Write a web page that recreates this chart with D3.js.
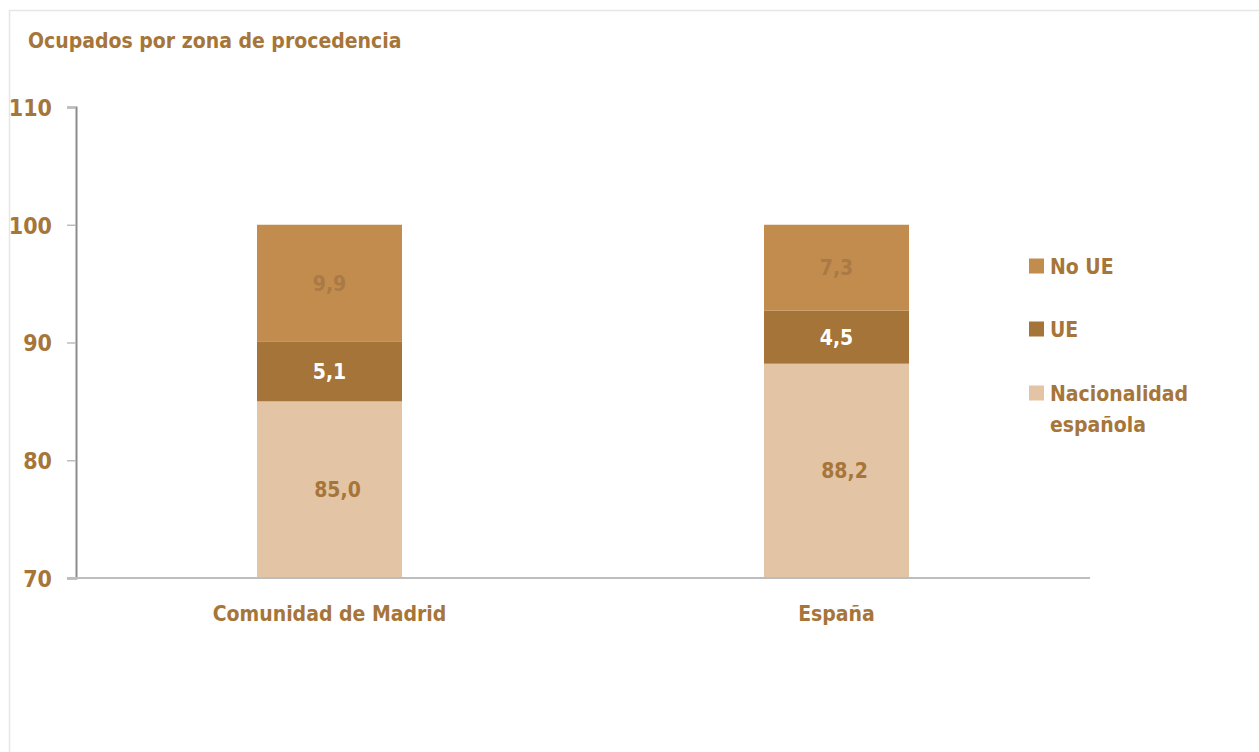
<!DOCTYPE html>
<html lang="es">
<head>
<meta charset="UTF-8">
<title>Ocupados por zona de procedencia</title>
<script src="https://d3js.org/d3.v7.min.js"></script>
<style>
    body { margin: 0; padding: 0; background: #fff; }
    svg text {
        font-family: "DejaVu Sans Condensed", "Liberation Sans Narrow", Arial, sans-serif;
        font-weight: bold;
        fill: #a6753a;
    }
</style>
</head>
<body>
<div id="chart"></div>
<script>
    // datos
    const categories = ["Comunidad de Madrid", "España"];
    const series = ["Nacionalidad española", "UE", "No UE"];
    const nacional = [85.0, 88.2];
    const ue = [5.1, 4.5];
    const noUe = [9.9, 7.3];
    const yTicks = [70, 80, 90, 100, 110];

    const width = 1259, height = 752;
    const colors = { "Nacionalidad española": "#e3c4a4", "UE": "#a57438", "No UE": "#c28c4e" };
    const labelColors = { "Nacionalidad española": "#a6753a", "UE": "#ffffff", "No UE": "#a97a45" };

    const rows = categories.map((c, i) => ({
        cat: c,
        "Nacionalidad española": nacional[i],
        "UE": ue[i],
        "No UE": noUe[i]
    }));
    const stacked = d3.stack().keys(series)(rows);

    const svg = d3.select("#chart").append("svg")
        .attr("width", width)
        .attr("height", height);

    // marco
    svg.append("path")
        .attr("d", `M9.5,${height} V10.5 H${width}`)
        .attr("fill", "none")
        .attr("stroke", "#e6e6e6")
        .attr("stroke-width", 1.5);

    svg.append("text")
        .attr("x", 28).attr("y", 48)
        .attr("font-size", 21)
        .text("Ocupados por zona de procedencia");

    const x = d3.scaleBand().domain(categories).range([76, 1090]);
    const barW = x.bandwidth() * 0.286;
    const y = d3.scaleLinear().domain([70, 110]).range([578, 107]);

    // eje y
    const yAxis = svg.append("g")
        .attr("transform", "translate(76,0)")
        .call(d3.axisLeft(y).tickValues(yTicks).tickSize(9).tickPadding(15));
    yAxis.select(".domain").attr("stroke", "#8c8c8c").attr("stroke-width", 2);
    yAxis.selectAll(".tick line").attr("stroke", "#bdbdbd").attr("stroke-width", 1.5);
    yAxis.selectAll(".tick text")
        .attr("font-size", 23)
        .attr("font-family", null)
        .attr("fill", null)
        .attr("dy", "0.36em");

    // barras
    const layer = svg.append("g").selectAll("g")
        .data(stacked)
        .join("g")
        .attr("fill", d => colors[d.key]);

    layer.selectAll("rect")
        .data(d => d)
        .join("rect")
        .attr("x", d => x(d.data.cat) + (x.bandwidth() - barW) / 2)
        .attr("y", d => y(d[1]))
        .attr("width", barW)
        .attr("height", d => y(Math.max(d[0], 70)) - y(d[1]));

    // etiquetas de valores
    svg.append("g").selectAll("g")
        .data(stacked)
        .join("g")
        .selectAll("text")
        .data(d => d.map(v => ({ key: d.key, v })))
        .join("text")
        .attr("x", d => x(d.v.data.cat) + x.bandwidth() / 2 + (d.key === "Nacionalidad española" ? 8 : 0))
        .attr("y", d => (y(Math.max(d.v[0], 70)) + y(d.v[1])) / 2)
        .attr("dy", "0.36em")
        .attr("text-anchor", "middle")
        .attr("font-size", 21)
        .style("fill", d => labelColors[d.key])
        .text(d => d3.format(".1f")(d.v[1] - d.v[0]).replace(".", ","));

    // eje x
    svg.append("line")
        .attr("x1", 67).attr("x2", 1090)
        .attr("y1", y(70)).attr("y2", y(70))
        .attr("stroke", "#bdbdbd").attr("stroke-width", 2);

    svg.append("g").selectAll("text")
        .data(categories)
        .join("text")
        .attr("x", d => x(d) + x.bandwidth() / 2)
        .attr("y", 621)
        .attr("text-anchor", "middle")
        .attr("font-size", 21)
        .text(d => d);

    // leyenda
    const legendItems = [
        { key: "No UE", lines: ["No UE"], y: 266 },
        { key: "UE", lines: ["UE"], y: 329 },
        { key: "Nacionalidad española", lines: ["Nacionalidad", "española"], y: 393 }
    ];
    const legend = svg.append("g").selectAll("g")
        .data(legendItems)
        .join("g")
        .attr("transform", d => `translate(1029,${d.y})`);
    legend.append("rect")
        .attr("x", 0).attr("y", -7.5)
        .attr("width", 15).attr("height", 15)
        .attr("fill", d => colors[d.key]);
    legend.append("text")
        .attr("x", 21)
        .attr("font-size", 21)
        .selectAll("tspan")
        .data(d => d.lines)
        .join("tspan")
        .attr("x", 21)
        .attr("y", (d, i) => i * 31)
        .attr("dy", "0.36em")
        .text(d => d);
</script>
</body>
</html>
